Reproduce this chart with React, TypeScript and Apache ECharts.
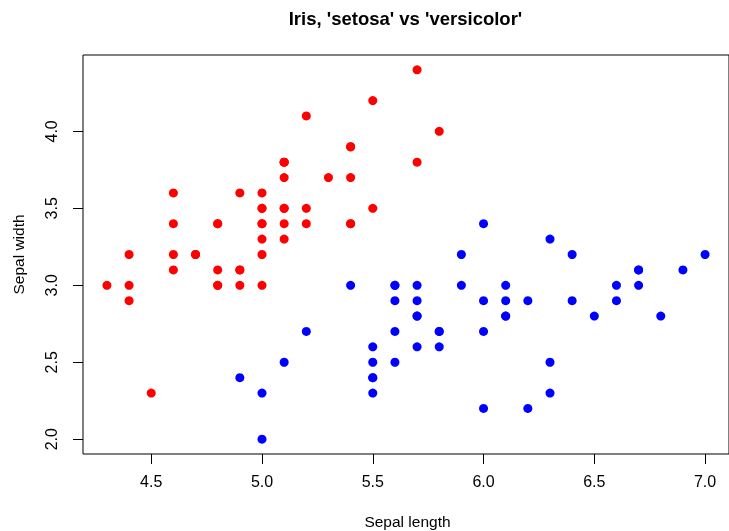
import React, { useEffect, useRef } from "react";
import * as echarts from "echarts";

const setosaLength = [5.1,4.9,4.7,4.6,5.0,5.4,4.6,5.0,4.4,4.9,5.4,4.8,4.8,4.3,5.8,5.7,5.4,5.1,5.7,5.1,5.4,5.1,4.6,5.1,4.8,5.0,5.0,5.2,5.2,4.7,4.8,5.4,5.2,5.5,4.9,5.0,5.5,4.9,4.4,5.1,5.0,4.5,4.4,5.0,5.1,4.8,5.1,4.6,5.3,5.0];
const setosaWidth = [3.5,3.0,3.2,3.1,3.6,3.9,3.4,3.4,2.9,3.1,3.7,3.4,3.0,3.0,4.0,4.4,3.9,3.5,3.8,3.8,3.4,3.7,3.6,3.3,3.4,3.0,3.4,3.5,3.4,3.2,3.1,3.4,4.1,4.2,3.1,3.2,3.5,3.6,3.0,3.4,3.5,2.3,3.2,3.5,3.8,3.0,3.8,3.2,3.7,3.3];
const versicolorLength = [7.0,6.4,6.9,5.5,6.5,5.7,6.3,4.9,6.6,5.2,5.0,5.9,6.0,6.1,5.6,6.7,5.6,5.8,6.2,5.6,5.9,6.1,6.3,6.1,6.4,6.6,6.8,6.7,6.0,5.7,5.5,5.5,5.8,6.0,5.4,6.0,6.7,6.3,5.6,5.5,5.5,6.1,5.8,5.0,5.6,5.7,5.7,6.2,5.1,5.7];
const versicolorWidth = [3.2,3.2,3.1,2.3,2.8,2.8,3.3,2.4,2.9,2.7,2.0,3.0,2.2,2.9,2.9,3.1,3.0,2.7,2.2,2.5,3.2,2.8,2.5,2.8,2.9,3.0,2.8,3.0,2.9,2.6,2.4,2.4,2.7,2.7,3.0,3.4,3.1,2.3,3.0,2.5,2.6,3.0,2.6,2.3,2.7,3.0,2.9,2.9,2.5,2.8];
const xTicks = [4.5, 5.0, 5.5, 6.0, 6.5, 7.0];
const yTicks = [2.0, 2.5, 3.0, 3.5, 4.0];

const FONT = "'Liberation Sans', Arial, Helvetica, sans-serif";

export default function App() {
  const ref = useRef<HTMLDivElement>(null);
  useEffect(() => {
    if (!ref.current) return;
    const chart = echarts.init(ref.current, null, { renderer: "svg" });
    const xMin = 4.3 - 0.04 * 2.7, xMax = 7.0 + 0.04 * 2.7;
    const yMin = 2.0 - 0.04 * 2.4, yMax = 4.4 + 0.04 * 2.4;
    chart.setOption({
      animation: false,
      grid: { left: 83, top: 55, width: 649.6, height: 399, show: true, borderColor: "#000", borderWidth: 1, backgroundColor: "transparent" },
      xAxis: {
        type: "value", min: xMin, max: xMax,
        axisLine: { show: false },
        splitLine: { show: false },
        axisTick: { show: true, length: 10, lineStyle: { color: "#000" }, customValues: xTicks },
        axisLabel: { color: "#000", fontSize: 16, fontFamily: FONT, margin: 19, customValues: xTicks, formatter: (v: number) => v.toFixed(1) },
      },
      yAxis: {
        type: "value", min: yMin, max: yMax,
        axisLine: { show: false },
        splitLine: { show: false },
        axisTick: { show: true, length: 10, lineStyle: { color: "#000" }, customValues: yTicks },
        axisLabel: { color: "#000", fontSize: 16, fontFamily: FONT, margin: 24, rotate: 90, customValues: yTicks, formatter: (v: number) => v.toFixed(1) },
      },
      series: [
        { type: "scatter", symbol: "circle", symbolSize: 9, itemStyle: { color: "#ff0000", opacity: 1 }, data: setosaLength.map((x, i) => [x, setosaWidth[i]]) },
        { type: "scatter", symbol: "circle", symbolSize: 9, itemStyle: { color: "#0000ff", opacity: 1 }, data: versicolorLength.map((x, i) => [x, versicolorWidth[i]]) },
      ],
      graphic: [
        { type: "text", x: 405.5, y: 18, style: { text: "Iris, 'setosa' vs 'versicolor'", fill: "#000", font: `bold 18.5px ${FONT}`, align: "center", verticalAlign: "middle" } },
        { type: "text", x: 407.5, y: 521.5, style: { text: "Sepal length", fill: "#000", font: `15.5px ${FONT}`, align: "center", verticalAlign: "middle" } },
        { type: "text", x: 18, y: 254.5, rotation: Math.PI / 2, style: { text: "Sepal width", fill: "#000", font: `15.5px ${FONT}`, align: "center", verticalAlign: "middle" } },
      ],
    });
    return () => chart.dispose();
  }, []);
  return <div ref={ref} style={{ position: "fixed", left: 0, top: 0, width: 729, height: 531 }} />;
}
